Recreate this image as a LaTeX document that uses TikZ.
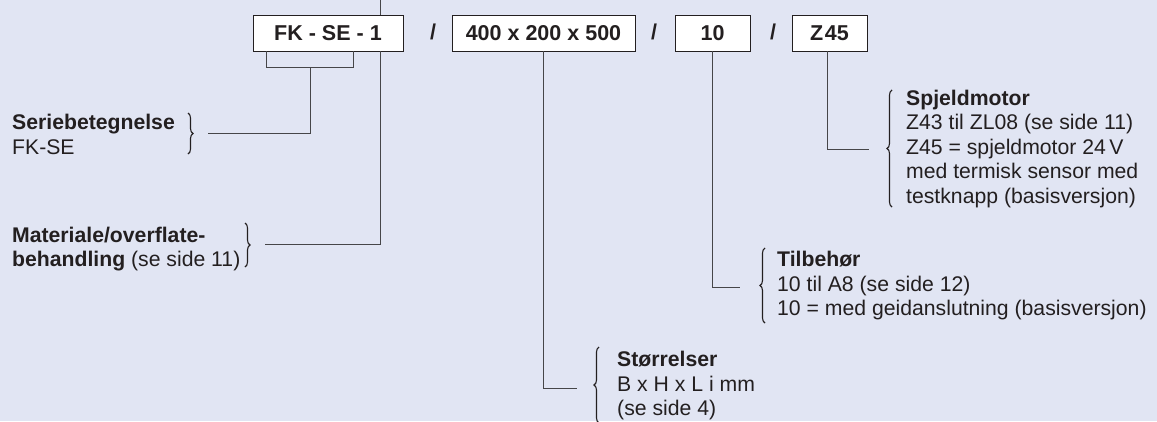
\documentclass[tikz,border=0pt]{standalone}
\usepackage{fontspec}
\setmainfont{Liberation Sans}
\usetikzlibrary{decorations.pathreplacing}
\definecolor{bgc}{RGB}{225,229,243}
\definecolor{txt}{RGB}{35,31,32}
\definecolor{lnc}{RGB}{70,70,72}
\begin{document}
\begin{tikzpicture}[x=1pt,y=-1pt,
  codebox/.style={draw=txt,line width=0.9pt,fill=white,inner sep=0pt,minimum height=36pt,text=txt,font=\fontsize{21.5}{24.5}\selectfont\bfseries},
  slash/.style={inner sep=0pt,text=txt,font=\fontsize{21.5}{24.5}\selectfont\bfseries},
  desc/.style={anchor=base west,align=left,inner sep=0pt,text=txt,font=\fontsize{21.2}{24.5}\selectfont},
  conn/.style={draw=lnc,line width=1pt},
  brc/.style={draw=txt,line width=1.1pt,decorate,decoration={brace,amplitude=5pt}}]
\fill[bgc] (0,0) rectangle (1157,421);
\useasboundingbox (0,0) rectangle (1157,421);
% code boxes
\node[codebox,minimum width=150pt] (fk) at (328,33) {FK - SE - 1};
\node[codebox,minimum width=183pt] (dim) at (543.5,33) {400 x 200 x 500};
\node[codebox,minimum width=75pt] (acc) at (712.5,33) {10};
\node[codebox,minimum width=75pt] (mot) at (829.5,33) {Z\kern1.5pt45};
\node[slash] (s1) at (433,32) {/};
\node[slash] (s2) at (654,32) {/};
\node[slash] (s3) at (773,32) {/};
% descriptions (anchored at the baseline of the last line)
\node[desc] (ser) at (12,154.3) {\textbf{Seriebetegnelse}\\FK-SE};
\node[desc] (mat) at (12,266.7) {\textbf{Materiale/overflate-}\\\textbf{behandling} (se side 11)};
\node[desc] (spj) at (906,203) {\textbf{Spjeldmotor}\\Z43 til ZL08 (se side 11)\\Z45 = spjeldmotor 24\,V\\med termisk sensor med\\testknapp (basisversjon)};
\node[desc] (til) at (777,315.7) {\textbf{Tilbehør}\\10 til A8 (se side 12)\\10 = med geidanslutning (basisversjon)};
\node[desc] (str) at (617,415.5) {\textbf{Størrelser}\\B x H x L i mm\\(se side 4)};
% braces
\draw[brc] (188,113) -- (188,154);
\draw[brc] (245,223) -- (245,267);
\draw[brc] (892,207) -- (892,90);
\draw[brc] (765,323) -- (765,248);
\draw[brc] (599,423) -- (599,347);
% connectors
\coordinate (top) at (380,-2);
\coordinate (matend) at (265,244);
\coordinate (serend) at (208,133);
\draw[conn] (top) -- (fk.north -| top);
\draw[conn] (fk.south -| top) |- (matend);
\draw[conn] (266,51) -- (266,67) -- (353,67) -- (353,51);
\draw[conn] (310,67) |- (serend);
\coordinate (strend) at (577,388);
\coordinate (tilend) at (740,287);
\coordinate (spjend) at (869,149);
\draw[conn] (dim.south) |- (strend);
\draw[conn] (acc.south) |- (tilend);
\draw[conn] (mot.south -| 827,0) |- (spjend);
\end{tikzpicture}
\end{document}
